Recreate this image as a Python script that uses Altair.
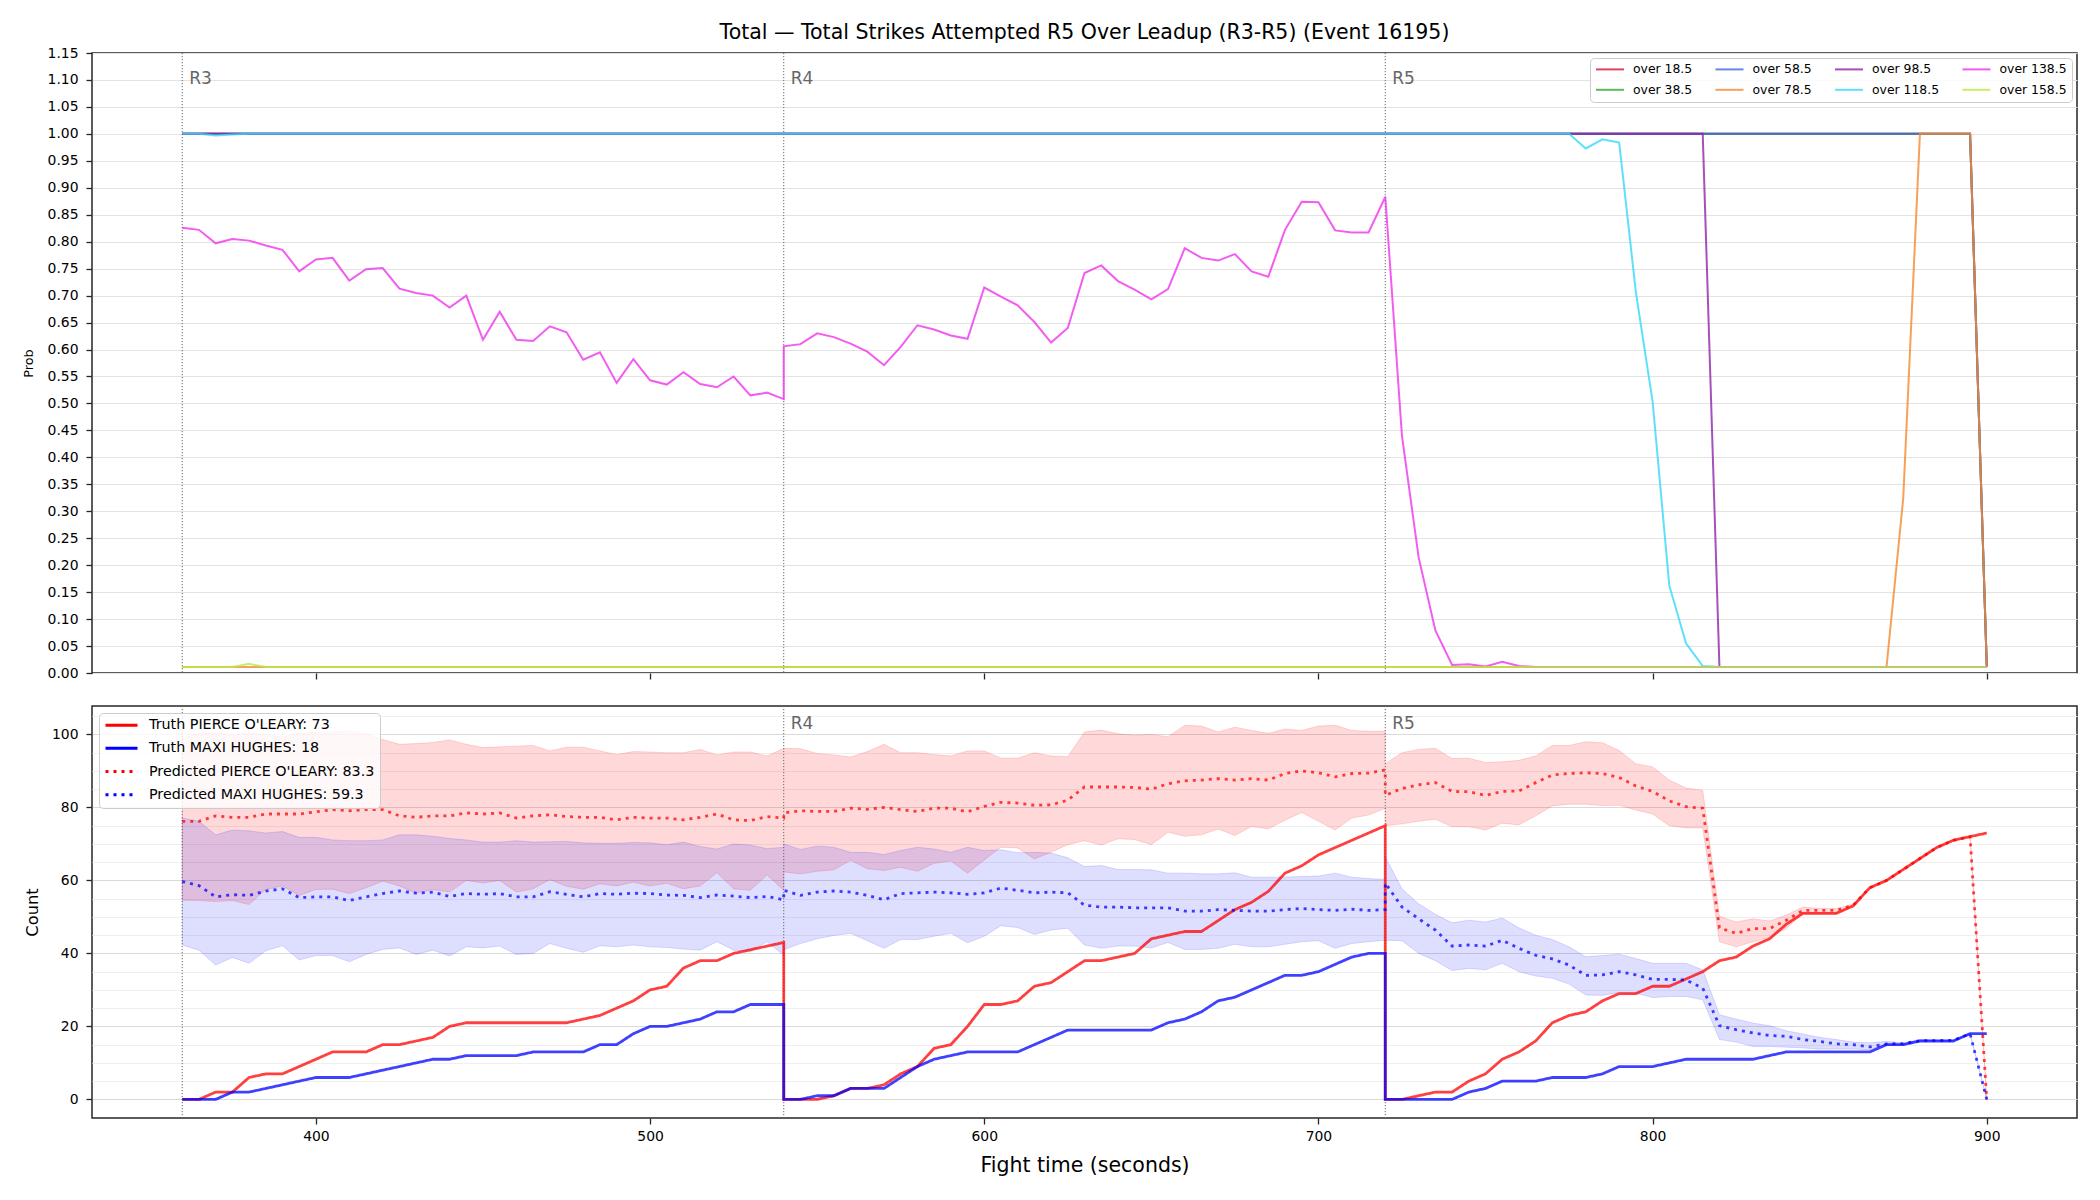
import altair as alt
import pandas as pd

# ---------------------------------------------------------------------------
# Time grid: rounds 3-5, sampled every 5 s; each round keeps its own end point
# ---------------------------------------------------------------------------
ROUND_STARTS = [360, 540, 720]
ROUND_NAMES = ["R3", "R4", "R5"]
POINTS_PER_ROUND = 37
time_s = [start + 5 * k for start in ROUND_STARTS for k in range(POINTS_PER_ROUND)]

# ---------------------------------------------------------------------------
# Over/under probabilities (R3 | R4 | R5)
# ---------------------------------------------------------------------------
THRESHOLDS = ["over 18.5", "over 38.5", "over 58.5", "over 78.5",
              "over 98.5", "over 118.5", "over 138.5", "over 158.5"]
THRESHOLD_COLORS = ["#dc143c", "#33a833", "#4169e1", "#f5882f",
                    "#8e24aa", "#36d8fa", "#f033ec", "#baea45"]

over_18_5 = [1.0] * 37 + [1.0] * 37 + [1.0] * 36 + [0.011]
over_38_5 = [1.0] * 37 + [1.0] * 37 + [1.0] * 36 + [0.011]
over_58_5 = [1.0] * 37 + [1.0] * 37 + [1.0] * 36 + [0.011]
over_78_5 = [0.011] * 37 + [0.011] * 37 + [0.011] * 31 + [0.324, 1.0, 1.0, 1.0, 1.0, 0.011]
over_98_5 = [1.0] * 37 + [1.0] * 37 + [1.0] * 20 + [0.011] * 17
over_118_5 = ([1.0, 1.0, 0.997, 0.999] + [1.0] * 33
              + [1.0] * 37
              + [1.0] * 12 + [0.973, 0.990, 0.984, 0.706, 0.504, 0.162, 0.055, 0.013] + [0.011] * 17)
over_138_5 = ([0.826, 0.822, 0.797, 0.805, 0.802, 0.793, 0.785, 0.745, 0.767, 0.770,
               0.728, 0.749, 0.751, 0.713, 0.705, 0.700, 0.678, 0.700, 0.618, 0.670,
               0.618, 0.616, 0.643, 0.632, 0.581, 0.595, 0.538, 0.582, 0.543, 0.535,
               0.558, 0.536, 0.530, 0.550, 0.515, 0.520, 0.508]
              + [0.606, 0.610, 0.630, 0.623, 0.611, 0.596, 0.571, 0.605, 0.645, 0.637,
                 0.626, 0.620, 0.715, 0.698, 0.682, 0.651, 0.613, 0.640, 0.742, 0.756,
                 0.727, 0.711, 0.693, 0.712, 0.788, 0.770, 0.765, 0.777, 0.745, 0.735,
                 0.822, 0.874, 0.873, 0.821, 0.817, 0.817, 0.883]
              + [0.884, 0.440, 0.214, 0.079, 0.015, 0.016, 0.012, 0.021, 0.013] + [0.011] * 28)
over_158_5 = [0.011] * 4 + [0.017] + [0.011] * 32 + [0.011] * 37 + [0.011] * 37

prob_series = [over_18_5, over_38_5, over_58_5, over_78_5,
               over_98_5, over_118_5, over_138_5, over_158_5]

# ---------------------------------------------------------------------------
# Strike counts: truth and prediction with its band (R3 | R4 | R5)
# ---------------------------------------------------------------------------
pierce_truth = ([0, 0, 2, 2, 6, 7, 7, 9, 11, 13, 13, 13, 15, 15, 16, 17, 20, 21, 21, 21,
                 21, 21, 21, 21, 22, 23, 25, 27, 30, 31, 36, 38, 38, 40, 41, 42, 43]
                + [0, 0, 0, 1, 3, 3, 4, 7, 9, 14, 15, 20, 26, 26, 27, 31, 32, 35, 38, 38,
                   39, 40, 44, 45, 46, 46, 49, 52, 54, 57, 62, 64, 67, 69, 71, 73, 75]
                + [0, 0, 1, 2, 2, 5, 7, 11, 13, 16, 21, 23, 24, 27, 29, 29, 31, 31, 33, 35,
                   38, 39, 42, 44, 48, 51, 51, 51, 53, 58, 60, 63, 66, 69, 71, 72, 73])
maxi_truth = ([0, 0, 0, 2, 2, 3, 4, 5, 6, 6, 6, 7, 8, 9, 10, 11, 11, 12, 12, 12,
               12, 13, 13, 13, 13, 15, 15, 18, 20, 20, 21, 22, 24, 24, 26, 26, 26]
              + [0, 0, 1, 1, 3, 3, 3, 6, 9, 11, 12, 13, 13, 13, 13, 15, 17, 19, 19, 19,
                 19, 19, 19, 21, 22, 24, 27, 28, 30, 32, 34, 34, 35, 37, 39, 40, 40]
              + [0, 0, 0, 0, 0, 2, 3, 5, 5, 5, 6, 6, 6, 7, 9, 9, 9, 10, 11, 11,
                 11, 11, 11, 12, 13, 13, 13, 13, 13, 13, 15, 15, 16, 16, 16, 18, 18])

pierce_pred = ([76.2, 76.2, 77.7, 77.3, 77.3, 78.2, 78.2, 78.2, 78.8, 79.4,
                79.1, 79.4, 79.4, 77.7, 77.3, 77.7, 77.7, 78.5, 78.2, 78.5,
                77.1, 77.7, 78.0, 77.5, 77.3, 77.3, 76.6, 77.3, 77.1, 77.1,
                76.6, 77.3, 78.2, 76.6, 76.4, 77.5, 77.1]
               + [78.5, 79.1, 78.9, 78.9, 79.8, 79.5, 80.0, 79.4, 78.9, 79.8,
                  79.8, 78.8, 80.3, 81.4, 81.2, 80.6, 80.7, 82.0, 85.6, 85.6,
                  85.6, 85.5, 85.0, 86.5, 87.3, 87.5, 87.9, 87.5, 87.9, 87.5,
                  89.3, 90.0, 89.5, 88.4, 89.3, 89.4, 90.3]
               + [83.3, 85.2, 86.2, 86.8, 84.4, 84.3, 83.3, 84.4, 84.5, 86.8,
                  88.9, 89.3, 89.5, 89.3, 88.2, 85.9, 84.4, 81.8, 80.2, 79.8,
                  47.0, 45.5, 46.8, 46.8, 49.1, 51.8, 51.8, 51.8, 53.2, 58.0,
                  60.0, 63.0, 66.0, 69.0, 71.0, 72.0, 0.0])
maxi_pred = ([59.7, 58.6, 55.5, 56.1, 55.9, 57.1, 57.7, 55.3, 55.5, 55.5,
              54.5, 55.5, 56.4, 57.1, 56.5, 56.8, 55.6, 56.4, 56.2, 56.4,
              55.5, 55.5, 56.9, 56.2, 55.5, 56.4, 56.2, 56.5, 56.4, 56.0,
              55.9, 55.3, 56.0, 55.7, 55.3, 55.6, 54.7]
             + [57.3, 55.9, 56.8, 57.1, 56.8, 55.9, 54.7, 56.4, 56.6, 56.8,
                56.6, 56.2, 56.6, 57.9, 57.3, 56.6, 56.8, 56.6, 53.2, 52.7,
                52.7, 52.5, 52.5, 52.5, 51.6, 51.6, 52.0, 51.8, 51.6, 51.6,
                52.0, 52.3, 52.0, 51.8, 52.1, 51.8, 52.0]
             + [59.3, 52.7, 49.5, 46.4, 42.0, 42.3, 42.0, 43.6, 41.4, 39.5,
                38.5, 36.8, 34.0, 34.1, 35.0, 34.1, 32.9, 32.9, 32.7, 30.5,
                20.2, 19.1, 18.2, 17.5, 17.3, 16.4, 15.9, 15.2, 15.0, 14.4,
                15.2, 15.3, 16.1, 16.1, 16.2, 18.0, 0.0])

pierce_hi = ([99.0, 100.3, 100.5, 100.0, 100.4, 100.0, 99.3, 100.3, 100.6, 100.7,
              100.9, 100.2, 98.6, 97.3, 97.5, 97.8, 98.5, 97.3, 96.4, 96.6,
              96.8, 97.0, 95.5, 96.5, 96.5, 95.5, 94.5, 95.3, 95.2, 95.0,
              95.0, 95.9, 94.4, 95.2, 95.2, 94.1, 96.2]
             + [96.2, 96.1, 94.8, 94.4, 93.8, 95.3, 97.3, 95.0, 95.0, 94.5,
                94.1, 95.5, 95.5, 93.5, 93.5, 95.0, 94.1, 93.9, 100.7, 101.2,
                100.2, 99.8, 100.0, 99.4, 102.5, 102.3, 100.7, 102.0, 101.1, 100.3,
                101.5, 101.1, 102.3, 102.5, 101.1, 100.9, 100.9]
             + [92.0, 95.0, 95.9, 96.2, 93.4, 93.5, 92.3, 92.5, 92.9, 94.1,
                97.0, 97.0, 98.0, 97.7, 95.6, 92.0, 91.1, 87.5, 85.3, 84.7,
                50.2, 48.6, 49.5, 48.9, 50.5, 52.7, 52.3, 52.3, 53.5, 58.0,
                60.0, 63.0, 66.0, 69.0, 71.0, 72.0, 0.0])
pierce_lo = ([54.6, 54.5, 54.2, 54.5, 53.4, 57.5, 58.5, 55.9, 57.5, 57.6,
              56.4, 58.0, 59.8, 58.5, 56.5, 57.5, 56.8, 60.0, 59.3, 60.0,
              56.8, 57.7, 60.2, 58.4, 57.6, 59.1, 58.5, 59.5, 58.5, 59.2,
              57.7, 58.5, 62.1, 57.7, 57.3, 61.5, 57.3]
             + [62.3, 61.8, 62.5, 62.9, 65.5, 63.2, 62.7, 63.6, 62.5, 64.7,
                65.3, 62.0, 65.6, 69.1, 68.9, 65.9, 67.7, 69.8, 70.9, 69.7,
                71.4, 71.2, 69.8, 73.2, 72.1, 72.5, 74.1, 72.3, 74.8, 74.1,
                76.5, 78.6, 76.2, 73.8, 77.1, 77.9, 79.8]
             + [75.0, 75.5, 76.2, 76.8, 74.7, 74.7, 73.8, 75.7, 75.2, 77.7,
                80.4, 80.9, 80.9, 80.5, 80.6, 79.3, 78.2, 75.0, 74.4, 74.4,
                43.2, 41.8, 43.2, 44.4, 46.8, 50.9, 50.9, 50.9, 53.2, 58.0,
                60.0, 63.0, 66.0, 69.0, 71.0, 72.0, 0.0])
maxi_hi = ([77.1, 76.2, 72.5, 73.8, 73.6, 73.0, 73.4, 71.8, 71.8, 71.1,
            70.9, 70.9, 71.1, 72.5, 72.5, 72.1, 71.5, 71.1, 70.5, 70.5,
            70.9, 70.5, 70.6, 70.7, 70.3, 70.2, 70.2, 70.4, 70.3, 69.8,
            70.5, 69.3, 68.6, 70.0, 69.7, 68.7, 69.1]
           + [70.0, 68.5, 69.4, 69.1, 67.7, 67.7, 67.1, 68.2, 69.1, 68.6,
              67.7, 69.1, 68.2, 68.4, 67.6, 67.7, 67.5, 66.2, 63.8, 64.1,
              63.0, 63.0, 62.9, 62.0, 62.0, 61.8, 61.8, 62.1, 60.9, 60.9,
              60.9, 61.1, 61.2, 62.0, 60.9, 60.5, 60.3]
           + [66.5, 57.7, 53.6, 50.7, 48.4, 49.1, 48.6, 49.7, 47.0, 45.0,
              43.8, 41.8, 39.1, 39.4, 39.8, 38.6, 37.3, 37.3, 37.3, 35.5,
              23.2, 22.0, 20.9, 20.2, 18.8, 17.9, 17.0, 16.4, 15.7, 15.5,
              15.9, 15.5, 16.4, 16.2, 16.2, 18.2, 0.0])
maxi_lo = ([42.3, 40.9, 36.8, 38.9, 37.3, 40.7, 42.1, 38.2, 39.4, 39.4,
            37.7, 39.7, 41.1, 41.5, 39.7, 40.9, 39.3, 41.8, 41.5, 42.0,
            39.7, 40.0, 42.7, 41.4, 40.3, 42.1, 41.8, 42.3, 41.8, 41.6,
            41.2, 40.9, 43.2, 40.9, 40.5, 43.2, 39.5]
           + [41.0, 42.7, 44.0, 44.9, 45.5, 43.5, 41.4, 43.8, 43.8, 44.7,
              45.5, 42.9, 44.7, 47.6, 47.1, 45.2, 46.4, 46.9, 42.3, 41.4,
              42.0, 42.0, 41.5, 43.0, 41.1, 41.1, 41.4, 42.5, 41.8, 41.8,
              42.5, 43.2, 43.5, 41.4, 42.7, 43.2, 43.6]
           + [43.6, 43.5, 40.0, 38.0, 35.3, 35.9, 35.5, 37.3, 35.0, 33.8,
              33.2, 31.6, 28.6, 28.5, 29.3, 29.1, 27.9, 28.2, 28.2, 27.3,
              16.4, 15.7, 14.5, 14.5, 14.3, 14.1, 13.8, 13.8, 13.8, 13.6,
              15.0, 15.0, 16.0, 16.0, 16.0, 18.0, 0.0])

COUNT_SERIES = ["Truth PIERCE O'LEARY: 73", "Truth MAXI HUGHES: 18",
                "Predicted PIERCE O'LEARY: 83.3", "Predicted MAXI HUGHES: 59.3"]
COUNT_COLORS = ["#ff0000", "#0000ff", "#ff0000", "#0000ff"]
COUNT_DASHES = [[1, 0], [1, 0], [3, 5], [3, 5]]
COUNT_OPACITY = [0.75, 0.75, 0.6, 0.6]

for s in prob_series + [pierce_truth, maxi_truth, pierce_pred, maxi_pred,
                        pierce_hi, pierce_lo, maxi_hi, maxi_lo]:
    assert len(s) == len(time_s)

# ---------------------------------------------------------------------------
# Tables
# ---------------------------------------------------------------------------
prob_df = pd.DataFrame([
    {"t": t, "seq": i, "line": name, "p": p}
    for name, series in zip(THRESHOLDS, prob_series)
    for i, (t, p) in enumerate(zip(time_s, series))
])

count_df = pd.DataFrame([
    {"t": t, "seq": i, "series": name, "value": v}
    for name, series in zip(COUNT_SERIES, [pierce_truth, maxi_truth, pierce_pred, maxi_pred])
    for i, (t, v) in enumerate(zip(time_s, series))
])

band_df = pd.DataFrame([
    {"t": t, "seq": i, "fighter": who, "lo": lo, "hi": hi}
    for who, los, his in [("PIERCE", pierce_lo, pierce_hi), ("MAXI", maxi_lo, maxi_hi)]
    for i, (t, lo, hi) in enumerate(zip(time_s, los, his))
])

round_df = pd.DataFrame({"t": ROUND_STARTS, "name": ROUND_NAMES})

# ---------------------------------------------------------------------------
# Shared geometry and styling
# ---------------------------------------------------------------------------
FONT = "DejaVu Sans"
PLOT_W = 1985
TOP_H = 620
BOT_H = 412
X_DOMAIN = [333, 927]
X_TICKS = [400, 500, 600, 700, 800, 900]
PROB_TICKS = [round(0.05 * k, 2) for k in range(24)]
COUNT_TICKS = list(range(0, 106, 5))

x_scale = alt.Scale(domain=X_DOMAIN, nice=False, zero=False)

x_top = alt.X("t:Q", scale=x_scale,
              axis=alt.Axis(values=X_TICKS, labels=False, title=None, grid=False))
x_bot = alt.X("t:Q", scale=x_scale,
              axis=alt.Axis(values=X_TICKS, grid=False, title="Fight time (seconds)",
                            titleFontSize=20.5, titlePadding=13, labelPadding=5))

prob_axis = alt.Axis(values=PROB_TICKS, format=".2f", title="Prob",
                     titleFontSize=12.8, titleX=-64, titleY=TOP_H / 2,
                     titleAngle=270, titleBaseline="middle", titleAlign="center",
                     gridColor="#e3e3e3", gridWidth=1)
count_axis = alt.Axis(values=COUNT_TICKS,
                      labelExpr="datum.value % 20 === 0 ? datum.label : ''",
                      tickOpacity={"condition": {"test": "datum.value % 20 === 0", "value": 1}, "value": 0},
                      gridColor={"condition": {"test": "datum.value % 20 === 0", "value": "#dadada"},
                                 "value": "#efefef"},
                      title="Count", titleFontSize=16.3, titleX=-60, titleY=BOT_H / 2,
                      titleAngle=270, titleBaseline="middle", titleAlign="center")

prob_y = alt.Scale(domain=[0, 1.15], nice=False, zero=False)
count_y = alt.Scale(domain=[-5.1, 107.8], nice=False, zero=False)

# ---------------------------------------------------------------------------
# Top panel: probability lines
# ---------------------------------------------------------------------------
top_rules = alt.Chart(round_df).mark_rule(
    color="#666666", strokeDash=[1.2, 1.8], strokeWidth=1
).encode(x=x_top)

top_names = alt.Chart(round_df).mark_text(
    align="left", baseline="middle", dx=7, fontSize=17, color="#666666", font=FONT
).encode(x=x_top, y=alt.value(26), text="name:N")

prob_lines = alt.Chart(prob_df).mark_line(strokeWidth=2, strokeOpacity=0.8).encode(
    x=x_top,
    y=alt.Y("p:Q", scale=prob_y, axis=prob_axis),
    color=alt.Color(
        "line:N",
        scale=alt.Scale(domain=THRESHOLDS, range=THRESHOLD_COLORS),
        legend=alt.Legend(orient="top-right", offset=5, columns=4, columnPadding=21.5,
                          rowPadding=7.6, clipHeight=12.4, symbolType="stroke",
                          symbolSize=784, symbolStrokeWidth=2, symbolOpacity=0.8,
                          labelFontSize=12.4, labelOffset=8, labelFont=FONT,
                          labelColor="#000000", padding=5,
                          fillColor="rgba(255,255,255,0.8)", strokeColor="#cccccc",
                          cornerRadius=4, title=None),
    ),
    order=alt.Order("seq:Q"),
)

top = alt.layer(top_rules, top_names, prob_lines).properties(
    width=PLOT_W, height=TOP_H,
    title=alt.TitleParams(
        "Total — Total Strikes Attempted R5 Over Leadup (R3-R5) (Event 16195)",
        fontSize=20.5, fontWeight="normal", font=FONT, color="#000000",
        anchor="middle", offset=3),
)

# ---------------------------------------------------------------------------
# Bottom panel: counts with prediction bands
# ---------------------------------------------------------------------------
bands = []
for who, colour, alpha in [("PIERCE", "#ff0000", 0.15), ("MAXI", "#0000ff", 0.13)]:
    bands.append(
        alt.Chart(band_df).transform_filter(alt.datum.fighter == who).mark_area(
            color=colour, fillOpacity=alpha, stroke=colour, strokeOpacity=alpha, strokeWidth=1
        ).encode(
            x=x_bot,
            y=alt.Y("lo:Q", scale=count_y, axis=count_axis),
            y2="hi:Q",
        )
    )

bot_rules = alt.Chart(round_df).mark_rule(
    color="#666666", strokeDash=[1.2, 1.8], strokeWidth=1
).encode(x=x_bot)

# the R3 tag sits under the legend box in this panel, so only R4 and R5 are written
bot_names = alt.Chart(round_df).transform_filter(alt.datum.name != "R3").mark_text(
    align="left", baseline="middle", dx=7, fontSize=17, color="#666666", font=FONT
).encode(x=x_bot, y=alt.value(18), text="name:N")

count_legend = alt.Legend(orient="top-left", offset=7, symbolType="stroke", symbolSize=1024,
                          symbolStrokeWidth=3, labelFontSize=14.3, labelOffset=10,
                          labelFont=FONT, labelColor="#000000", labelLimit=400,
                          clipHeight=14.3, rowPadding=8.2, padding=5,
                          fillColor="rgba(255,255,255,0.8)",
                          strokeColor="#cccccc", cornerRadius=4, title=None)

count_lines = alt.Chart(count_df).mark_line(strokeWidth=2.8).encode(
    x=x_bot,
    y=alt.Y("value:Q", scale=count_y, axis=count_axis),
    color=alt.Color("series:N", scale=alt.Scale(domain=COUNT_SERIES, range=COUNT_COLORS),
                    legend=count_legend),
    strokeDash=alt.StrokeDash("series:N",
                              scale=alt.Scale(domain=COUNT_SERIES, range=COUNT_DASHES),
                              legend=count_legend),
    strokeOpacity=alt.StrokeOpacity("series:N",
                                    scale=alt.Scale(domain=COUNT_SERIES, range=COUNT_OPACITY),
                                    legend=count_legend),
    order=alt.Order("seq:Q"),
)

bottom = alt.layer(*bands, bot_rules, bot_names, count_lines).properties(
    width=PLOT_W, height=BOT_H
)

chart = alt.vconcat(top, bottom, spacing=23).resolve_scale(
    x="independent", y="independent", color="independent",
    strokeDash="independent", strokeOpacity="independent",
).resolve_legend(
    color="independent", strokeDash="independent", strokeOpacity="independent",
).properties(
    padding={"left": 21, "top": 21, "right": 5, "bottom": 5}
).configure(
    font=FONT, background="white"
).configure_view(
    stroke="#262626", strokeWidth=1.5
).configure_axis(
    labelFont=FONT, labelFontSize=13.9, labelColor="#000000", labelPadding=8,
    tickColor="#262626", tickWidth=1.3, tickSize=6, domain=False,
    titleFont=FONT, titleFontWeight="normal", titleColor="#000000",
)

chart.save("out.html", embed_options={"renderer": "svg", "actions": False})
